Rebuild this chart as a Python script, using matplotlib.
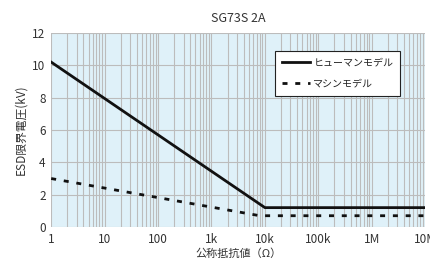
import matplotlib
matplotlib.use("Agg")
import matplotlib.pyplot as plt
from matplotlib.ticker import FixedLocator, LogLocator, NullFormatter

plt.rcParams['font.family'] = ['Noto Sans CJK JP', 'DejaVu Sans']

# Data
human_r = [1, 1e4, 1e7]
human_kv = [10.2, 1.2, 1.2]
machine_r = [1, 8e3, 1e7]
machine_kv = [3.0, 0.7, 0.7]
xtick_vals = [1, 10, 100, 1e3, 1e4, 1e5, 1e6, 1e7]
xtick_labels = ['1', '10', '100', '1k', '10k', '100k', '1M', '10M']

fig = plt.figure(figsize=(4.3, 2.64), dpi=100)
ax = fig.add_axes([0.119, 0.140, 0.870, 0.735])
ax.set_facecolor('#dff1f9')

ax.plot(human_r, human_kv, color='#111111', lw=2, label='ヒューマンモデル')
ax.plot(machine_r, machine_kv, color='#111111', lw=2, dashes=(1.8, 2.8),
        label='マシンモデル')

ax.set_xscale('log')
ax.set_xlim(1, 1e7)
ax.set_ylim(0, 12)
ax.xaxis.set_major_locator(FixedLocator(xtick_vals))
ax.set_xticklabels(xtick_labels)
ax.xaxis.set_minor_locator(LogLocator(base=10, subs=range(2, 10), numticks=100))
ax.xaxis.set_minor_formatter(NullFormatter())
ax.set_yticks(range(0, 13, 2))

ax.grid(True, which='both', color='#bcbcbc', lw=0.8)
ax.set_axisbelow(True)
for s in ax.spines.values():
    s.set_visible(False)
ax.tick_params(which='both', length=0, labelsize=8.5, colors='#333333', pad=4)

ax.set_title('SG73S 2A', fontsize=9, color='#333333', pad=8)
ax.set_ylabel('ESD限界電圧(kV)', fontsize=8.5, color='#333333', labelpad=4)
ax.set_xlabel('公称抵抗値（Ω）', fontsize=8, color='#333333', labelpad=2)

leg = ax.legend(loc='upper right', bbox_to_anchor=(0.947, 0.935), fontsize=7.2,
                frameon=True, fancybox=False, edgecolor='#222222',
                handlelength=2.8, handletextpad=0.3, borderpad=0.7,
                labelspacing=1.1, framealpha=1)
leg.get_frame().set_linewidth(0.8)
for t in leg.get_texts():
    t.set_color('#222222')

plt.savefig('out.png', dpi=100)
